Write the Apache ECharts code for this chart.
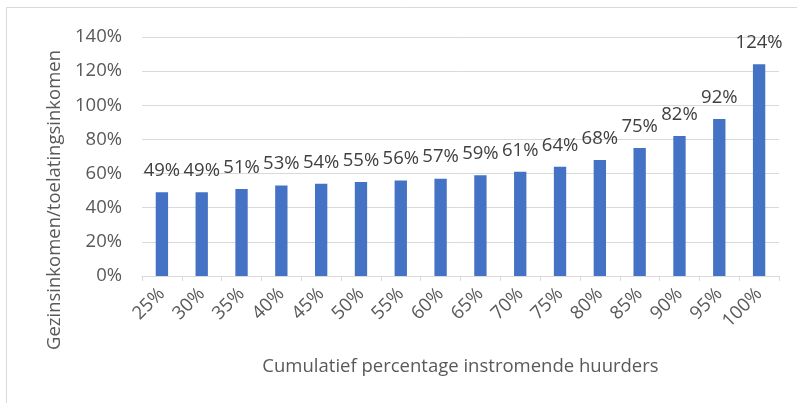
<!DOCTYPE html>
<html>
<head>
<meta charset="utf-8">
<script src="https://cdn.jsdelivr.net/npm/echarts@6/dist/echarts.min.js"></script>
<style>
  html, body { margin: 0; padding: 0; background: #fff; }
  #chart { width: 797px; height: 403px; }
</style>
</head>
<body>
<div id="chart"></div>
<script>
// Cumulative share of incoming tenants (categories)
const categories = ['25%', '30%', '35%', '40%', '45%', '50%', '55%', '60%',
                    '65%', '70%', '75%', '80%', '85%', '90%', '95%', '100%'];
// Household income as a percentage of the admission income
const ratioValues = [49, 49, 51, 53, 54, 55, 56, 57, 59, 61, 64, 68, 75, 82, 92, 124];
const yTicks = [0, 20, 40, 60, 80, 100, 120, 140];

const xTitle = 'Cumulatief percentage instromende huurders';
const yTitle = 'Gezinsinkomen/toelatingsinkomen';

const font = 'Open Sans';
const size = 18.5;
const chart = echarts.init(document.getElementById('chart'), null, { renderer: 'canvas' });

chart.setOption({
  animation: false,
  backgroundColor: '#ffffff',
  grid: { left: 142, right: 18, top: 37, bottom: 127, containLabel: false },
  xAxis: {
    type: 'category',
    data: categories,
    name: xTitle,
    nameLocation: 'middle',
    nameGap: 81,
    nameTextStyle: { fontFamily: font, fontSize: size, color: '#595959' },
    axisLine: { show: true, lineStyle: { color: '#d9d9d9', width: 1 } },
    axisTick: { show: true, length: 5, lineStyle: { color: '#d9d9d9' } },
    axisLabel: { rotate: 45, margin: 15, fontFamily: font, fontSize: size, color: '#595959' }
  },
  yAxis: {
    type: 'value',
    min: yTicks[0],
    max: yTicks[yTicks.length - 1],
    interval: yTicks[1] - yTicks[0],
    axisLine: { show: false },
    axisTick: { show: false },
    splitLine: { lineStyle: { color: '#d9d9d9', width: 1 } },
    axisLabel: { margin: 20, fontFamily: font, fontSize: size, color: '#595959',
                 formatter: v => v + '%' }
  },
  series: [{
    type: 'bar',
    data: ratioValues,
    barWidth: '31%',
    itemStyle: { color: '#4472c4' },
    label: {
      show: true, position: 'top', distance: 12,
      fontFamily: font, fontSize: size, color: '#404040',
      formatter: p => p.value + '%'
    }
  }],
  graphic: [
    {
      type: 'rect', silent: true, z: -1,
      shape: { x: 6.5, y: 7.5, width: 820, height: 420 },
      style: { fill: 'none', stroke: '#d9d9d9', lineWidth: 1 }
    },
    {
      type: 'text', x: 55, y: 200, rotation: Math.PI / 2,
      style: { text: yTitle, fontFamily: font, fontSize: size, fill: '#595959',
               align: 'center', verticalAlign: 'middle' }
    }
  ]
});
</script>
</body>
</html>
